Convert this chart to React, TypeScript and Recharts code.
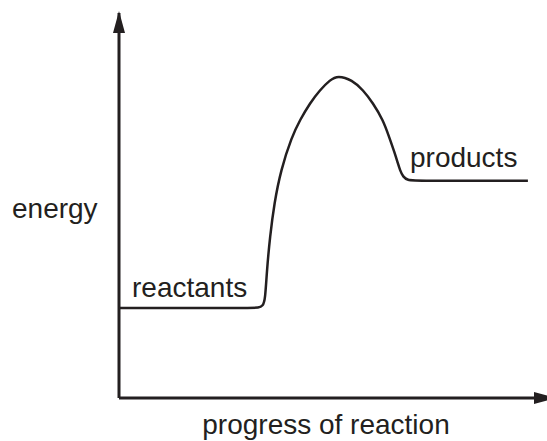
import { Line, LineChart, XAxis, YAxis } from "recharts";

// Energy profile (progress 0..100, energy 0..100).
const progress = [
  0, 2.0, 30.5, 32.0, 33.1, 33.6, 34.0, 34.7, 35.7, 37.2, 39.7, 41.6, 43.9, 46.2,
  48.5, 50.3, 53.6, 56.1, 58.4, 60.7, 62.1, 63.4, 64.1, 64.6, 65.3, 66.4, 68.0,
  92.0, 94.0,
];
const energy = [
  23.4, 23.4, 23.4, 23.4, 23.9, 25.5, 33.2, 41.8, 50.6, 59.2, 67.8, 72.2, 76.6,
  80.0, 82.6, 83.8, 82.6, 80.0, 76.6, 72.2, 67.8, 63.6, 61.0, 59.2, 57.4, 56.6,
  56.4, 56.4, 56.4,
];

const INK = "#231f20";
const FONT = "'Liberation Sans', Arial, sans-serif";

const data = progress.map((x, i) => ({ x, e: energy[i] }));

export default function App() {
  return (
    <div style={{ position: "absolute", left: 0, top: 0, width: 547, height: 441 }}>
      <LineChart
        width={547}
        height={441}
        data={data}
        margin={{ top: 13, right: -7, bottom: 0, left: 0 }}
      >
        <defs>
          <marker
            id="arrow"
            viewBox="0 0 22 12"
            refX="20"
            refY="6"
            markerUnits="userSpaceOnUse"
            markerWidth="22"
            markerHeight="12"
            orient="auto-start-reverse"
          >
            <path d="M0,0 L22,6 L0,12 z" fill={INK} />
          </marker>
        </defs>
        <XAxis
          type="number"
          dataKey="x"
          domain={[0, 100]}
          height={43}
          tick={false}
          tickLine={false}
          axisLine={{ stroke: INK, strokeWidth: 3, markerEnd: "url(#arrow)" }}
        />
        <YAxis
          type="number"
          domain={[0, 100]}
          width={119}
          tick={false}
          tickLine={false}
          axisLine={{ stroke: INK, strokeWidth: 3, markerStart: "url(#arrow)" }}
        />
        <Line
          type="basis"
          dataKey="e"
          stroke={INK}
          strokeWidth={2.5}
          dot={false}
          isAnimationActive={false}
        />
        <text x={12} y={218} fontFamily={FONT} fontSize={28} fill={INK}>
          energy
        </text>
        <text x={132} y={297} fontFamily={FONT} fontSize={28} fill={INK}>
          reactants
        </text>
        <text x={410} y={167} fontFamily={FONT} fontSize={28} fill={INK}>
          products
        </text>
        <text x={326} y={434} textAnchor="middle" fontFamily={FONT} fontSize={28} fill={INK}>
          progress of reaction
        </text>
      </LineChart>
    </div>
  );
}
